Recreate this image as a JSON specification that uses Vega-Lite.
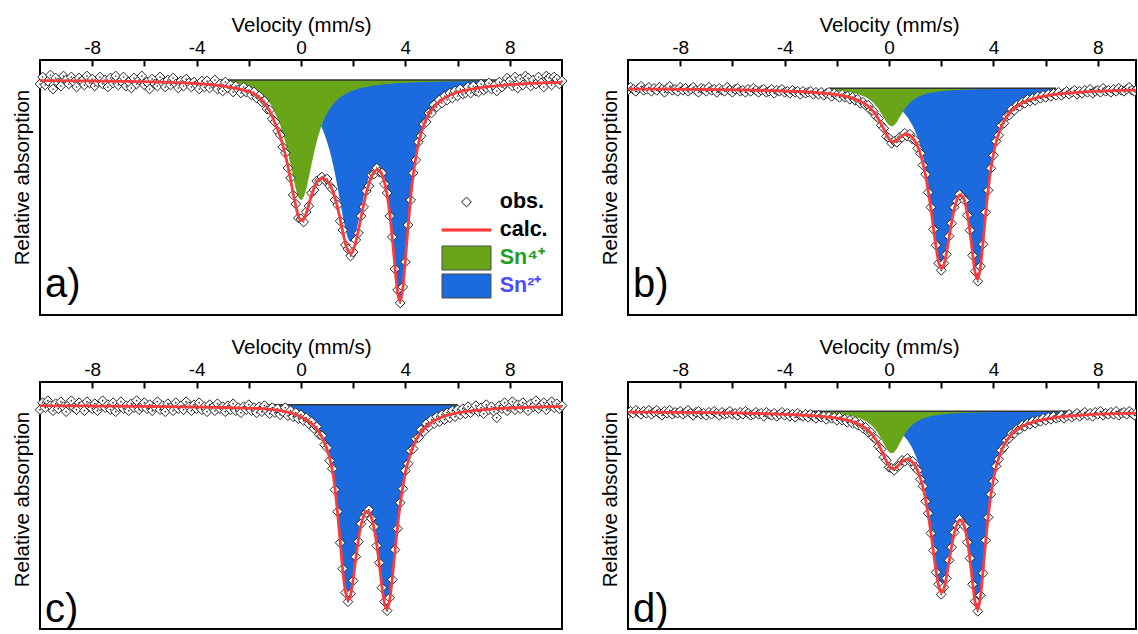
{
"$schema": "https://vega.github.io/schema/vega-lite/v6.json",
"background": "white",
"padding": {"left": 11, "top": 14, "right": 0, "bottom": 0},
"columns": 2,
"spacing": {"row": 20, "column": 29},
"resolve": {"scale": {"fill": "independent", "stroke": "independent", "shape": "independent"}, "legend": {"fill": "independent", "stroke": "independent", "shape": "independent"}},
"config": {
  "font": "Liberation Sans",
  "view": {"stroke": "black", "strokeWidth": 2},
  "axis": {"grid": false, "domain": false, "labelFont": "Liberation Sans", "titleFont": "Liberation Sans", "titleFontWeight": "normal", "labelColor": "black", "titleColor": "black"},
  "axisX": {"tickSize": -6, "tickWidth": 2, "tickColor": "black", "labelFontSize": 19, "titleFontSize": 20.5, "labelPadding": 9, "titlePadding": 3},
  "axisY": {"labels": false, "ticks": false, "titleFontSize": 20.5, "titlePadding": 8, "titleY": 117},
  "title": {"font": "Liberation Sans"}
},
"datasets": {
"LG": [{"s":"obs."},{"s":"calc."},{"s":"Sn⁴⁺"},{"s":"Sn²⁺"}],
"A": [
{"v":-10,"o":4,"c":0.6},{"v":-9.9,"o":-3},{"v":-9.8,"o":5},{"v":-9.7,"o":1},{"v":-9.6,"o":-5},
{"v":-9.5,"o":9,"c":0.7},{"v":-9.4,"o":-2},{"v":-9.3,"o":3},{"v":-9.2,"o":6},{"v":-9.1,"o":-4},
{"v":-9,"o":0,"c":0.8},{"v":-8.9,"o":4},{"v":-8.8,"o":-3},{"v":-8.7,"o":2},{"v":-8.6,"o":7},
{"v":-8.5,"o":-2,"c":0.9},{"v":-8.4,"o":1},{"v":-8.3,"o":5},{"v":-8.2,"o":-4},{"v":-8.1,"o":3},
{"v":-8,"o":-1,"c":1},{"v":-7.9,"o":6},{"v":-7.8,"o":2},{"v":-7.7,"o":-3},{"v":-7.6,"o":4},
{"v":-7.5,"o":0,"c":1.2},{"v":-7.4,"o":7},{"v":-7.3,"o":-2},{"v":-7.2,"o":3},{"v":-7.1,"o":-4},
{"v":-7,"o":5,"c":1.3},{"v":-6.9,"o":1},{"v":-6.8,"o":-3},{"v":-6.7,"o":6},{"v":-6.6,"o":2},
{"v":-6.5,"o":8,"c":1.5},{"v":-6.4,"o":-2},{"v":-6.3,"o":4},{"v":-6.2,"o":0},{"v":-6.1,"o":-4},
{"v":-6,"o":5,"c":1.7},{"v":-5.9,"o":2},{"v":-5.8,"o":9},{"v":-5.7,"o":-1},{"v":-5.6,"o":4},
{"v":-5.5,"o":6,"c":2},{"v":-5.4,"o":-3},{"v":-5.3,"o":3},{"v":-5.2,"o":7},{"v":-5.1,"o":0},
{"v":-5,"o":5,"c":2.3},{"v":-4.9,"o":-2},{"v":-4.8,"o":4},{"v":-4.7,"o":8},{"v":-4.6,"o":1},
{"v":-4.5,"o":6,"c":2.9},{"v":-4.4,"o":-1},{"v":-4.3,"o":3},{"v":-4.2,"o":7},{"v":-4.1,"o":2},
{"v":-4,"o":5,"c":3.5},{"v":-3.9,"o":9},{"v":-3.8,"o":1,"c":3.9},
{"v":-3.7,"o":7,"c":4.1,"g":0.3,"b":0.2},{"v":-3.6,"o":1,"c":4.3,"g":0.4,"b":0.2},{"v":-3.5,"o":8,"c":4.5,"g":0.5,"b":0.3},
{"v":-3.4,"o":3,"c":4.8,"g":0.6,"b":0.4},{"v":-3.3,"o":0,"c":5.1,"g":0.8,"b":0.5},{"v":-3.2,"o":9,"c":5.4,"g":0.9,"b":0.6},
{"v":-3.1,"o":4,"c":5.7,"g":1.1,"b":0.7},{"v":-3,"o":11,"c":6,"g":1.3,"b":0.8},{"v":-2.9,"o":2,"c":6.4,"g":1.5,"b":0.9},
{"v":-2.8,"o":8,"c":6.9,"g":1.7,"b":1.1},{"v":-2.7,"o":5,"c":7.3,"g":2,"b":1.3},{"v":-2.6,"o":12,"c":7.8,"g":2.5,"b":1.5},
{"v":-2.5,"o":6,"c":8.3,"g":3.1,"b":1.7},{"v":-2.4,"o":10,"c":8.9,"g":3.7,"b":2},{"v":-2.3,"o":13,"c":9.5,"g":4.4,"b":2.2},
{"v":-2.2,"o":7,"c":10.1,"g":5.1,"b":2.5},{"v":-2.1,"o":12,"c":10.8,"g":5.9,"b":2.7},{"v":-2,"o":10,"c":11.5,"g":6.8,"b":3},
{"v":-1.9,"o":15,"c":12.5,"g":7.8,"b":3.4},{"v":-1.8,"o":12,"c":14,"g":9,"b":3.8},{"v":-1.7,"o":18,"c":15.5,"g":10.3,"b":4.2},
{"v":-1.6,"o":16,"c":17.5,"g":12,"b":4.6},{"v":-1.5,"o":22,"c":20,"g":14,"b":5},{"v":-1.4,"o":21,"c":23,"g":16.5,"b":6},
{"v":-1.3,"o":29,"c":27,"g":19.5,"b":7},{"v":-1.2,"o":30,"c":31,"g":23,"b":8},{"v":-1.1,"o":39,"c":36.5,"g":27,"b":9},
{"v":-1,"o":42,"c":43.1,"g":33.3,"b":9.8},{"v":-0.9,"o":51,"c":49.1,"g":38.6,"b":10.5},{"v":-0.8,"o":55,"c":56.2,"g":45,"b":11.2},
{"v":-0.7,"o":67,"c":64.8,"g":52.8,"b":12},{"v":-0.6,"o":73,"c":74.8,"g":62,"b":12.8},{"v":-0.5,"o":88,"c":86.5,"g":72.7,"b":13.8},
{"v":-0.4,"o":98,"c":99.6,"g":84.7,"b":14.9},{"v":-0.3,"o":115,"c":113.3,"g":97.2,"b":16.1},{"v":-0.2,"o":124,"c":126.1,"g":108.7,"b":17.4},
{"v":-0.1,"o":138,"c":135.9,"g":117,"b":18.9},{"v":0,"o":139,"c":140.6,"g":120,"b":20.6},{"v":0.1,"o":142,"c":139.5,"g":117,"b":22.5},
{"v":0.2,"o":132,"c":133.5,"g":108.7,"b":24.8},{"v":0.3,"o":126,"c":124.5,"g":97.2,"b":27.3},{"v":0.4,"o":113,"c":115.5,"g":84.7,"b":30.3},
{"v":0.5,"o":110,"c":108,"g":72.7,"b":33.6},{"v":0.6,"o":101,"c":102.5,"g":62,"b":37.6},{"v":0.7,"o":101,"c":99.5,"g":52.8,"b":42.2},
{"v":0.8,"o":97,"c":98.5,"g":45,"b":47.8},{"v":0.9,"o":100,"c":99,"g":38.6,"b":54.2},{"v":1,"o":99,"c":101,"g":33.3,"b":61.9},
{"v":1.1,"o":106,"c":104.5,"g":28.9,"b":70.8},{"v":1.2,"o":109,"c":110,"g":25.3,"b":81.4},{"v":1.3,"o":120,"c":118,"g":22.2,"b":93.4},
{"v":1.4,"o":125,"c":127.5,"g":19.7,"b":107},{"v":1.5,"o":141,"c":139,"g":17.5,"b":121.5},{"v":1.6,"o":150,"c":151.7,"g":15.7,"b":136},
{"v":1.7,"o":165,"c":162.8,"g":14.1,"b":148.7},{"v":1.8,"o":169,"c":170.7,"g":12.7,"b":158},{"v":1.9,"o":176,"c":173.4,"g":11.5,"b":161.9},
{"v":2,"o":172,"c":170.3,"g":10.5,"b":159.8},{"v":2.1,"o":160,"c":162,"g":9.6,"b":152.4},{"v":2.2,"o":153,"c":150.4,"g":8.8,"b":141.6},
{"v":2.3,"o":136,"c":137.3,"g":8.1,"b":129.2},{"v":2.4,"o":127,"c":124.6,"g":7.5,"b":117.1},{"v":2.5,"o":111,"c":113.2,"g":6.9,"b":106.3},
{"v":2.6,"o":106,"c":103.9,"g":6.5,"b":97.4},{"v":2.7,"o":95,"c":96.7,"g":6,"b":90.7},{"v":2.8,"o":94,"c":92.1,"g":5.6,"b":86.5},
{"v":2.9,"o":88,"c":89.9,"g":5.2,"b":84.7},{"v":3,"o":92,"c":90.6,"g":4.9,"b":85.7},{"v":3.1,"o":93,"c":94.5,"g":4.6,"b":89.9},
{"v":3.2,"o":104,"c":102.4,"g":4.3,"b":98.1},{"v":3.3,"o":113,"c":115.1,"g":4.1,"b":111},{"v":3.4,"o":136,"c":133.8,"g":3.9,"b":129.9},
{"v":3.5,"o":157,"c":158.6,"g":3.7,"b":154.9},{"v":3.6,"o":189,"c":187.3,"g":3.5,"b":183.8},{"v":3.7,"o":210,"c":212.2,"g":3.3,"b":208.9},
{"v":3.8,"o":223,"c":221.4,"g":3.1,"b":218.3},{"v":3.9,"o":207,"c":208.5,"g":3,"b":205.5},{"v":4,"o":182,"c":179.7,"g":2.8,"b":176.9},
{"v":4.1,"o":145,"c":147.1,"g":2.7,"b":144.4},{"v":4.2,"o":120,"c":118.1,"g":2.6,"b":115.5},{"v":4.3,"o":93,"c":94.9,"g":2.5,"b":92.4},
{"v":4.4,"o":80,"c":77.2,"g":2.4,"b":74.8},{"v":4.5,"o":62,"c":63.6,"g":2.2,"b":61.4},{"v":4.6,"o":56,"c":53.3,"g":2.1,"b":51.2},
{"v":4.7,"o":44,"c":45.5,"g":2.1,"b":43.4},{"v":4.8,"o":42,"c":39.2,"g":2,"b":37.2},{"v":4.9,"o":33,"c":34.2,"g":1.9,"b":32.3},
{"v":5,"o":33,"c":30.1,"g":1.8,"b":28.3},{"v":5.1,"o":25,"c":26.9,"g":1.8,"b":25.1},{"v":5.2,"o":27,"c":24.1,"g":1.7,"b":22.4},
{"v":5.3,"o":20,"c":21.8,"g":1.7,"b":20.1},{"v":5.4,"o":23,"c":19.8,"g":1.6,"b":18.2},{"v":5.5,"o":16,"c":18.1,"g":1.5,"b":16.6},
{"v":5.6,"o":20,"c":16.7,"g":1.5,"b":15.2},{"v":5.7,"o":13,"c":15.3,"g":1.4,"b":13.9},{"v":5.8,"o":18,"c":14.3,"g":1.4,"b":12.9},
{"v":5.9,"o":11,"c":13.1,"g":1.3,"b":11.8},{"v":6,"o":16,"c":12.3,"g":1.3,"b":11},{"v":6.1,"o":9,"c":11.6,"g":1.3,"b":10.3},
{"v":6.2,"o":14,"c":11,"g":1.2,"b":9.7},{"v":6.3,"o":13,"c":10.4,"g":1.2,"b":9.1},{"v":6.4,"o":7,"c":9.8,"g":1.2,"b":8.5},
{"v":6.5,"o":13,"c":9.3,"g":1.1,"b":8},{"v":6.6,"o":6,"c":8.8,"g":1.1,"b":7.5},{"v":6.7,"o":11,"c":8.4,"g":1.1,"b":7},
{"v":6.8,"o":12,"c":8,"g":1.1,"b":6.6},{"v":6.9,"o":4,"c":7.6,"g":1,"b":6.1},{"v":7,"o":10,"c":7.2,"g":1,"b":5.7},
{"v":7.1,"o":8,"g":1,"b":5.2},{"v":7.2,"o":3,"g":0.95,"b":4.7},{"v":7.3,"o":9,"g":0.9,"b":4.1},
{"v":7.4,"o":6,"g":0.9,"b":3.4},{"v":7.5,"o":11,"c":5.8,"g":0.85,"b":2.6},{"v":7.6,"o":2,"g":0.8,"b":1.8},
{"v":7.7,"o":7},{"v":7.8,"o":4},{"v":7.9,"o":-2},{"v":8,"o":1,"c":4.6},{"v":8.1,"o":6},{"v":8.2,"o":-3},{"v":8.3,"o":8},{"v":8.4,"o":-1},
{"v":8.5,"o":5,"c":3.8},{"v":8.6,"o":-4},{"v":8.7,"o":-2},{"v":8.8,"o":6},{"v":8.9,"o":0},{"v":9,"o":4,"c":3.2},{"v":9.1,"o":-3},{"v":9.2,"o":3},
{"v":9.3,"o":7},{"v":9.4,"o":-4},{"v":9.5,"o":-2,"c":2.7},{"v":9.6,"o":5},{"v":9.7,"o":-3},{"v":9.8,"o":-1},{"v":9.9,"o":4},{"v":10,"o":1,"c":2.3}
],
"B": [
{"v":-10,"o":2,"c":0.7},{"v":-9.9,"o":-1},{"v":-9.8,"o":1},{"v":-9.7,"o":3},{"v":-9.6,"o":0},
{"v":-9.5,"o":-2,"c":0.75},{"v":-9.4,"o":2},{"v":-9.3,"o":1},{"v":-9.2,"o":-1},{"v":-9.1,"o":3},
{"v":-9,"o":0,"c":0.8},{"v":-8.9,"o":2},{"v":-8.8,"o":-1},{"v":-8.7,"o":1},{"v":-8.6,"o":4},
{"v":-8.5,"o":0,"c":0.9},{"v":-8.4,"o":-2},{"v":-8.3,"o":2},{"v":-8.2,"o":1},{"v":-8.1,"o":3},
{"v":-8,"o":-1,"c":1},{"v":-7.9,"o":2},{"v":-7.8,"o":0},{"v":-7.7,"o":3},{"v":-7.6,"o":1},
{"v":-7.5,"o":-1,"c":1.1},{"v":-7.4,"o":2},{"v":-7.3,"o":4},{"v":-7.2,"o":0},{"v":-7.1,"o":1},
{"v":-7,"o":3,"c":1.2},{"v":-6.9,"o":-1},{"v":-6.8,"o":2},{"v":-6.7,"o":1},{"v":-6.6,"o":4},
{"v":-6.5,"o":0,"c":1.35},{"v":-6.4,"o":2},{"v":-6.3,"o":3},{"v":-6.2,"o":-1},{"v":-6.1,"o":2},
{"v":-6,"o":4,"c":1.5},{"v":-5.9,"o":1},{"v":-5.8,"o":0},{"v":-5.7,"o":3},{"v":-5.6,"o":2},
{"v":-5.5,"o":4,"c":1.7},{"v":-5.4,"o":1},{"v":-5.3,"o":3},{"v":-5.2,"o":0},{"v":-5.1,"o":2},
{"v":-5,"o":4,"c":1.95},{"v":-4.9,"o":2},{"v":-4.8,"o":1},{"v":-4.7,"o":4},{"v":-4.6,"o":3},
{"v":-4.5,"o":1,"c":2.3},{"v":-4.4,"o":5},{"v":-4.3,"o":2},{"v":-4.2,"o":3},{"v":-4.1,"o":1},
{"v":-4,"o":4,"c":2.7},{"v":-3.9,"o":3},{"v":-3.8,"o":5},{"v":-3.7,"o":2},{"v":-3.6,"o":4},
{"v":-3.5,"o":3,"c":3.2},{"v":-3.4,"o":6},{"v":-3.3,"o":3},{"v":-3.2,"o":5},{"v":-3.1,"o":4},
{"v":-3,"o":3,"c":3.95},{"v":-2.9,"o":6},{"v":-2.8,"o":4},{"v":-2.7,"o":6},{"v":-2.6,"o":4},
{"v":-2.5,"o":7,"c":5},{"v":-2.4,"o":5},
{"v":-2.3,"o":4,"c":5.5,"g":1.9,"b":1.5},{"v":-2.2,"o":8,"c":5.8,"g":2.1,"b":1.6},{"v":-2.1,"o":5,"c":6.1,"g":2.2,"b":1.7},
{"v":-2,"o":7,"c":6.45,"g":2.4,"b":1.9},{"v":-1.9,"o":9,"c":6.9,"g":2.7,"b":2.1},{"v":-1.8,"o":6,"c":7.3,"g":2.9,"b":2.3},
{"v":-1.7,"o":9,"c":7.75,"g":3.2,"b":2.5},{"v":-1.6,"o":8,"c":8.4,"g":3.6,"b":2.8},{"v":-1.5,"o":11,"c":9.15,"g":4,"b":3.2},
{"v":-1.4,"o":9,"c":9.9,"g":4.5,"b":3.6},{"v":-1.3,"o":12,"c":10.75,"g":5.1,"b":4.1},{"v":-1.2,"o":11,"c":11.8,"g":5.8,"b":4.7},
{"v":-1.1,"o":15,"c":12.95,"g":6.6,"b":5.4},{"v":-1,"o":14,"c":14.3,"g":7.6,"b":6.1},{"v":-0.9,"o":17,"c":16,"g":8.8,"b":7},
{"v":-0.8,"o":17,"c":18,"g":10.3,"b":7.7},{"v":-0.7,"o":22,"c":20.35,"g":12.2,"b":8.15},{"v":-0.6,"o":23,"c":23.2,"g":14.5,"b":8.7},
{"v":-0.5,"o":28,"c":26.8,"g":17.4,"b":9.4},{"v":-0.4,"o":30,"c":30.9,"g":20.8,"b":10.1},{"v":-0.3,"o":37,"c":35.85,"g":24.9,"b":10.95},
{"v":-0.2,"o":40,"c":41.1,"g":29.3,"b":11.8},{"v":-0.1,"o":48,"c":46.4,"g":33.6,"b":12.8},{"v":0,"o":50,"c":50.7,"g":36.8,"b":13.9},
{"v":0.1,"o":55,"c":53.25,"g":38,"b":15.25},{"v":0.2,"o":53,"c":53.5,"g":36.8,"b":16.7},{"v":0.3,"o":54,"c":52,"g":33.6,"b":18.4},
{"v":0.4,"o":49,"c":49.7,"g":29.3,"b":20.4},{"v":0.5,"o":49,"c":47.6,"g":24.9,"b":22.7},{"v":0.6,"o":45,"c":46.2,"g":20.8,"b":25.4},
{"v":0.7,"o":48,"c":46.1,"g":17.4,"b":28.7},{"v":0.8,"o":46,"c":47.1,"g":14.5,"b":32.6},{"v":0.9,"o":51,"c":49.4,"g":12.2,"b":37.2},
{"v":1,"o":52,"c":53.2,"g":10.3,"b":42.9},{"v":1.1,"o":60,"c":58.6,"g":8.8,"b":49.8},{"v":1.2,"o":65,"c":65.8,"g":7.6,"b":58.2},
{"v":1.3,"o":77,"c":75.4,"g":6.6,"b":68.8},{"v":1.4,"o":86,"c":87.5,"g":5.8,"b":81.7},{"v":1.5,"o":104,"c":102.4,"g":5.1,"b":97.3},
{"v":1.6,"o":119,"c":120.1,"g":4.5,"b":115.6},{"v":1.7,"o":141,"c":139.6,"g":4,"b":135.6},{"v":1.8,"o":157,"c":158.7,"g":3.6,"b":155.1},
{"v":1.9,"o":175,"c":173.7,"g":3.2,"b":170.5},{"v":2,"o":182,"c":180.2,"g":2.9,"b":177.3},{"v":2.1,"o":175,"c":176.7,"g":2.7,"b":174},
{"v":2.2,"o":166,"c":164.8,"g":2.4,"b":162.4},{"v":2.3,"o":148,"c":149.1,"g":2.2,"b":146.9},{"v":2.4,"o":135,"c":133.6,"g":2.1,"b":131.5},
{"v":2.5,"o":119,"c":120.6,"g":1.9,"b":118.7},{"v":2.6,"o":113,"c":111.6,"g":1.8,"b":109.8},{"v":2.7,"o":106,"c":107.1,"g":1.6,"b":105.5},
{"v":2.8,"o":109,"c":107.6,"g":1.5,"b":106.1},{"v":2.9,"o":112,"c":113.6,"g":1.4,"b":112.2},{"v":3,"o":127,"c":125.5,"g":1.3,"b":124.2},
{"v":3.1,"o":142,"c":143.4,"g":1.2,"b":142.2},{"v":3.2,"o":167,"c":165.35,"g":1.15,"b":164.2},{"v":3.3,"o":183,"c":184.6,"g":1.1,"b":183.5},
{"v":3.4,"o":193,"c":190.95,"g":1.05,"b":189.9},{"v":3.5,"o":178,"c":179,"g":1,"b":178},{"v":3.6,"o":156,"c":153.95,"g":0.95,"b":153},
{"v":3.7,"o":124,"c":125.8,"g":0.9,"b":124.9},{"v":3.8,"o":102,"c":100.95,"g":0.85,"b":100.1},{"v":3.9,"o":80,"c":81.1,"g":0.8,"b":80.3},
{"v":4,"o":67,"c":65.8,"g":0.78,"b":65},{"v":4.1,"o":53,"c":54.15,"g":0.75,"b":53.4},{"v":4.2,"o":47,"c":45.2,"g":0.72,"b":44.5},
{"v":4.3,"o":37,"c":38.5,"g":0.7,"b":37.8},{"v":4.4,"o":35,"c":33.1,"g":0.67,"b":32.4},{"v":4.5,"o":28,"c":28.75,"g":0.65,"b":28.1},
{"v":4.6,"o":27,"c":25.2,"g":0.63,"b":24.6},{"v":4.7,"o":21,"c":22.3,"g":0.6,"b":21.7},{"v":4.8,"o":22,"c":20,"g":0.58,"b":19.4},
{"v":4.9,"o":17,"c":18,"g":0.56,"b":17.4},{"v":5,"o":18,"c":16.1,"g":0.54,"b":15.6},{"v":5.1,"o":14,"c":14.7,"g":0.5,"b":14.2},
{"v":5.2,"o":15,"c":13.5,"g":0.5,"b":13},{"v":5.3,"o":11,"c":12.4,"g":0.48,"b":11.9},{"v":5.4,"o":13,"c":11.5,"g":0.46,"b":11},
{"v":5.5,"o":10,"c":10.65,"g":0.45,"b":10.2},{"v":5.6,"o":12,"c":9.7,"g":0.43,"b":9.3},{"v":5.7,"o":8,"c":9.1,"g":0.42,"b":8.7},
{"v":5.8,"o":10,"c":8.6,"g":0.4,"b":8.2},{"v":5.9,"o":7,"c":8,"g":0.4,"b":7.6},{"v":6,"o":9,"c":7.6,"g":0.38,"b":7.2},
{"v":6.1,"o":6,"c":7.1,"g":0.36,"b":6.75},{"v":6.2,"o":8,"c":6.65,"g":0.35,"b":6.3},{"v":6.3,"o":5,"c":6.3,"g":0.34,"b":5.95},
{"v":6.4,"o":7,"c":5.9,"g":0.33,"b":5.6},
{"v":6.5,"o":4,"c":5.6},{"v":6.6,"o":7},{"v":6.7,"o":5},{"v":6.8,"o":3},{"v":6.9,"o":6},
{"v":7,"o":4,"c":4.5},{"v":7.1,"o":2},{"v":7.2,"o":6},{"v":7.3,"o":3},{"v":7.4,"o":5},
{"v":7.5,"o":2,"c":3.6},{"v":7.6,"o":4},{"v":7.7,"o":1},{"v":7.8,"o":5},{"v":7.9,"o":3},
{"v":8,"o":2,"c":2.9},{"v":8.1,"o":4},{"v":8.2,"o":0},{"v":8.3,"o":3},{"v":8.4,"o":2},
{"v":8.5,"o":4,"c":2.5},{"v":8.6,"o":1},{"v":8.7,"o":3},{"v":8.8,"o":0},{"v":8.9,"o":2},
{"v":9,"o":3,"c":2.1},{"v":9.1,"o":1},{"v":9.2,"o":-1},{"v":9.3,"o":2},{"v":9.4,"o":3},{"v":9.5,"o":1,"c":1.8}
],
"C": [
{"v":-10,"o":5,"c":1},{"v":-9.9,"o":-2},{"v":-9.8,"o":3},{"v":-9.7,"o":-4},{"v":-9.6,"o":1},
{"v":-9.5,"o":6,"c":1.1},{"v":-9.4,"o":-1},{"v":-9.3,"o":4},{"v":-9.2,"o":-3},{"v":-9.1,"o":2},
{"v":-9,"o":7,"c":1.15},{"v":-8.9,"o":0},{"v":-8.8,"o":-4},{"v":-8.7,"o":3},{"v":-8.6,"o":5},
{"v":-8.5,"o":-2,"c":1.2},{"v":-8.4,"o":1},{"v":-8.3,"o":6},{"v":-8.2,"o":-3},{"v":-8.1,"o":2},
{"v":-8,"o":4,"c":1.3},{"v":-7.9,"o":-1},{"v":-7.8,"o":6},{"v":-7.7,"o":1},{"v":-7.6,"o":-4},
{"v":-7.5,"o":3,"c":1.4},{"v":-7.4,"o":0},{"v":-7.3,"o":5},{"v":-7.2,"o":-2},{"v":-7.1,"o":7},
{"v":-7,"o":2,"c":1.5},{"v":-6.9,"o":-3},{"v":-6.8,"o":4},{"v":-6.7,"o":1},{"v":-6.6,"o":6},
{"v":-6.5,"o":-1,"c":1.6},{"v":-6.4,"o":3},{"v":-6.3,"o":-4},{"v":-6.2,"o":5},{"v":-6.1,"o":2},
{"v":-6,"o":-2,"c":1.7},{"v":-5.9,"o":4},{"v":-5.8,"o":0},{"v":-5.7,"o":6},{"v":-5.6,"o":2},
{"v":-5.5,"o":-3,"c":1.85},{"v":-5.4,"o":5},{"v":-5.3,"o":1},{"v":-5.2,"o":7},{"v":-5.1,"o":-1},
{"v":-5,"o":3,"c":2},{"v":-4.9,"o":6},{"v":-4.8,"o":-2},{"v":-4.7,"o":4},{"v":-4.6,"o":1},
{"v":-4.5,"o":5,"c":2.15},{"v":-4.4,"o":-3},{"v":-4.3,"o":2},{"v":-4.2,"o":6},{"v":-4.1,"o":0},
{"v":-4,"o":4,"c":2.3},{"v":-3.9,"o":-2},{"v":-3.8,"o":5},{"v":-3.7,"o":2},{"v":-3.6,"o":7},
{"v":-3.5,"o":0,"c":2.55},{"v":-3.4,"o":3},{"v":-3.3,"o":6},{"v":-3.2,"o":-1},{"v":-3.1,"o":4},
{"v":-3,"o":2,"c":2.8},{"v":-2.9,"o":7},{"v":-2.8,"o":1},{"v":-2.7,"o":5},{"v":-2.6,"o":-1},
{"v":-2.5,"o":6,"c":3.1},{"v":-2.4,"o":3},{"v":-2.3,"o":8},{"v":-2.2,"o":2},{"v":-2.1,"o":5},
{"v":-2,"o":0,"c":3.5},{"v":-1.9,"o":6},{"v":-1.8,"o":3},{"v":-1.7,"o":8},{"v":-1.6,"o":2,"c":3.8},
{"v":-1.5,"o":7,"c":3.9,"b":3.9},{"v":-1.4,"o":1,"c":4.1,"b":4.1},{"v":-1.3,"o":6,"c":4.3,"b":4.3},
{"v":-1.2,"o":9,"c":4.6,"b":4.6},{"v":-1.1,"o":3,"c":4.9,"b":4.9},{"v":-1,"o":8,"c":5.2,"b":5.2},
{"v":-0.9,"o":4,"c":5.5,"b":5.5},{"v":-0.8,"o":10,"c":5.9,"b":5.9},{"v":-0.7,"o":7,"c":6.3,"b":6.3},
{"v":-0.6,"o":3,"c":6.9,"b":6.9},{"v":-0.5,"o":11,"c":7.4,"b":7.4},{"v":-0.4,"o":6,"c":8.2,"b":8.2},
{"v":-0.3,"o":12,"c":9,"b":9},{"v":-0.2,"o":8,"c":10,"b":10},{"v":-0.1,"o":14,"c":11.1,"b":11.1},
{"v":0,"o":10,"c":12.3,"b":12.3},{"v":0.1,"o":16,"c":13.6,"b":13.6},{"v":0.2,"o":13,"c":15.1,"b":15.1},
{"v":0.3,"o":19,"c":16.8,"b":16.8},{"v":0.4,"o":17,"c":18.7,"b":18.7},{"v":0.5,"o":24,"c":21.2,"b":21.2},
{"v":0.6,"o":22,"c":24,"b":24},{"v":0.7,"o":30,"c":27.8,"b":27.8},{"v":0.8,"o":31,"c":32.4,"b":32.4},
{"v":0.9,"o":40,"c":38.2,"b":38.2},{"v":1,"o":43,"c":45,"b":45},{"v":1.1,"o":56,"c":53.6,"b":53.6},
{"v":1.2,"o":64,"c":65.4,"b":65.4},{"v":1.3,"o":85,"c":83.2,"b":83.2},{"v":1.4,"o":107,"c":108.3,"b":108.3},
{"v":1.5,"o":138,"c":136.3,"b":136.3},{"v":1.6,"o":164,"c":165.6,"b":165.6},{"v":1.7,"o":188,"c":186.1,"b":186.1},
{"v":1.8,"o":197,"c":195.5,"b":195.5},{"v":1.9,"o":189,"c":190.4,"b":190.4},{"v":2,"o":176,"c":174.3,"b":174.3},
{"v":2.1,"o":152,"c":153.9,"b":153.9},{"v":2.2,"o":137,"c":135.2,"b":135.2},{"v":2.3,"o":119,"c":120.6,"b":120.6},
{"v":2.4,"o":113,"c":111.1,"b":111.1},{"v":2.5,"o":108,"c":106.7,"b":106.7},{"v":2.6,"o":105,"c":107.2,"b":107.2},
{"v":2.7,"o":114,"c":112.8,"b":112.8},{"v":2.8,"o":122,"c":123.5,"b":123.5},{"v":2.9,"o":141,"c":139.5,"b":139.5},
{"v":3,"o":158,"c":159.7,"b":159.7},{"v":3.1,"o":183,"c":181.6,"b":181.6},{"v":3.2,"o":197,"c":198.9,"b":198.9},
{"v":3.3,"o":206,"c":204.5,"b":204.5},{"v":3.4,"o":193,"c":194.9,"b":194.9},{"v":3.5,"o":175,"c":173.3,"b":173.3},
{"v":3.6,"o":145,"c":147,"b":147},{"v":3.7,"o":124,"c":121.7,"b":121.7},{"v":3.8,"o":98,"c":99.9,"b":99.9},
{"v":3.9,"o":84,"c":82.2,"b":82.2},{"v":4,"o":66,"c":68.2,"b":68.2},{"v":4.1,"o":59,"c":57.2,"b":57.2},
{"v":4.2,"o":46,"c":48.5,"b":48.5},{"v":4.3,"o":44,"c":41.5,"b":41.5},{"v":4.4,"o":34,"c":36,"b":36},
{"v":4.5,"o":33,"c":31.3,"b":31.3},{"v":4.6,"o":25,"c":27.7,"b":27.7},{"v":4.7,"o":27,"c":24.6,"b":24.6},
{"v":4.8,"o":19,"c":22,"b":22},{"v":4.9,"o":22,"c":19.7,"b":19.7},{"v":5,"o":15,"c":17.8,"b":17.8},
{"v":5.1,"o":19,"c":16.2,"b":16.2},{"v":5.2,"o":12,"c":14.8,"b":14.8},{"v":5.3,"o":17,"c":13.5,"b":13.5},
{"v":5.4,"o":10,"c":12.4,"b":12.4},{"v":5.5,"o":15,"c":11.4,"b":11.4},{"v":5.6,"o":8,"c":10.6,"b":10.6},
{"v":5.7,"o":13,"c":9.85,"b":9.85},{"v":5.8,"o":6,"c":9.2,"b":9.2},{"v":5.9,"o":12,"c":8.6,"b":8.6},
{"v":6,"o":5,"c":8.1,"b":8.1},
{"v":6.1,"o":10},{"v":6.2,"o":4},{"v":6.3,"o":9},{"v":6.4,"o":2},{"v":6.5,"o":8,"c":6.3},
{"v":6.6,"o":5},{"v":6.7,"o":1},{"v":6.8,"o":7},{"v":6.9,"o":3},{"v":7,"o":9,"c":5},
{"v":7.1,"o":0},{"v":7.2,"o":5},{"v":7.3,"o":2},{"v":7.4,"o":7},{"v":7.5,"o":13,"c":4},
{"v":7.6,"o":1},{"v":7.7,"o":4},{"v":7.8,"o":-2},{"v":7.9,"o":6},{"v":8,"o":2,"c":3.3},
{"v":8.1,"o":-3},{"v":8.2,"o":5},{"v":8.3,"o":0},{"v":8.4,"o":4},{"v":8.5,"o":-2,"c":2.8},
{"v":8.6,"o":3},{"v":8.7,"o":6},{"v":8.8,"o":-1},{"v":8.9,"o":2},{"v":9,"o":-4,"c":2.3},
{"v":9.1,"o":4},{"v":9.2,"o":1},{"v":9.3,"o":-2},{"v":9.4,"o":5},{"v":9.5,"o":0,"c":2},
{"v":9.6,"o":-3},{"v":9.7,"o":3},{"v":9.8,"o":-1},{"v":9.9,"o":4},{"v":10,"o":1,"c":1.7}
],
"D": [
{"v":-10,"o":3,"c":0.8},{"v":-9.9,"o":0},{"v":-9.8,"o":2},{"v":-9.7,"o":-1},{"v":-9.6,"o":1},
{"v":-9.5,"o":3,"c":0.85},{"v":-9.4,"o":0},{"v":-9.3,"o":2},{"v":-9.2,"o":-1},{"v":-9.1,"o":3},
{"v":-9,"o":1,"c":0.9},{"v":-8.9,"o":-1},{"v":-8.8,"o":2},{"v":-8.7,"o":4},{"v":-8.6,"o":0},
{"v":-8.5,"o":2,"c":1},{"v":-8.4,"o":-1},{"v":-8.3,"o":3},{"v":-8.2,"o":1},{"v":-8.1,"o":2},
{"v":-8,"o":0,"c":1.1},{"v":-7.9,"o":3},{"v":-7.8,"o":1},{"v":-7.7,"o":-1},{"v":-7.6,"o":2},
{"v":-7.5,"o":4,"c":1.2},{"v":-7.4,"o":1},{"v":-7.3,"o":0},{"v":-7.2,"o":3},{"v":-7.1,"o":2},
{"v":-7,"o":4,"c":1.35},{"v":-6.9,"o":1},{"v":-6.8,"o":3},{"v":-6.7,"o":0},{"v":-6.6,"o":2},
{"v":-6.5,"o":4,"c":1.5},{"v":-6.4,"o":1},{"v":-6.3,"o":3},{"v":-6.2,"o":2},{"v":-6.1,"o":0},
{"v":-6,"o":3,"c":1.7},{"v":-5.9,"o":2},{"v":-5.8,"o":4},{"v":-5.7,"o":1},{"v":-5.6,"o":3},
{"v":-5.5,"o":0,"c":1.95},{"v":-5.4,"o":2},{"v":-5.3,"o":4},{"v":-5.2,"o":3},{"v":-5.1,"o":1},
{"v":-5,"o":3,"c":2.2},{"v":-4.9,"o":2},{"v":-4.8,"o":5},{"v":-4.7,"o":1},{"v":-4.6,"o":3},
{"v":-4.5,"o":4,"c":2.6},{"v":-4.4,"o":2},{"v":-4.3,"o":5},{"v":-4.2,"o":3},{"v":-4.1,"o":1},
{"v":-4,"o":4,"c":3},{"v":-3.9,"o":2},{"v":-3.8,"o":5},{"v":-3.7,"o":3},{"v":-3.6,"o":6},
{"v":-3.5,"o":2,"c":3.6},{"v":-3.4,"o":4},{"v":-3.3,"o":5},{"v":-3.2,"o":3,"c":4},
{"v":-3.1,"o":6,"c":4.2,"g":1.2,"b":0.9},{"v":-3,"o":3,"c":4.3,"g":1.3,"b":1},{"v":-2.9,"o":5,"c":4.5,"g":1.4,"b":1.1},
{"v":-2.8,"o":7,"c":4.7,"g":1.5,"b":1.2},{"v":-2.7,"o":4,"c":4.9,"g":1.6,"b":1.25},{"v":-2.6,"o":6,"c":5.1,"g":1.7,"b":1.3},
{"v":-2.5,"o":5,"c":5.3,"g":1.8,"b":1.4},{"v":-2.4,"o":8,"c":5.6,"g":1.9,"b":1.5},{"v":-2.3,"o":5,"c":5.9,"g":2.1,"b":1.6},
{"v":-2.2,"o":7,"c":6.2,"g":2.3,"b":1.8},{"v":-2.1,"o":6,"c":6.5,"g":2.5,"b":2},{"v":-2,"o":9,"c":6.8,"g":2.7,"b":2.1},
{"v":-1.9,"o":6,"c":7.2,"g":3,"b":2.3},{"v":-1.8,"o":9,"c":7.65,"g":3.2,"b":2.5},{"v":-1.7,"o":8,"c":8.2,"g":3.6,"b":2.8},
{"v":-1.6,"o":11,"c":8.85,"g":4,"b":3.1},{"v":-1.5,"o":9,"c":9.6,"g":4.4,"b":3.5},{"v":-1.4,"o":12,"c":10.45,"g":5,"b":4},
{"v":-1.3,"o":10,"c":11.3,"g":5.6,"b":4.5},{"v":-1.2,"o":14,"c":12.5,"g":6.4,"b":5.1},{"v":-1.1,"o":13,"c":13.75,"g":7.3,"b":5.8},
{"v":-1,"o":17,"c":15.2,"g":8.4,"b":6.7},{"v":-0.9,"o":16,"c":17.05,"g":9.8,"b":7.25},{"v":-0.8,"o":21,"c":19.1,"g":11.4,"b":7.7},
{"v":-0.7,"o":21,"c":21.7,"g":13.5,"b":8.2},{"v":-0.6,"o":26,"c":24.8,"g":16,"b":8.8},{"v":-0.5,"o":28,"c":28.7,"g":19.2,"b":9.5},
{"v":-0.4,"o":35,"c":33.2,"g":23,"b":10.2},{"v":-0.3,"o":38,"c":38.5,"g":27.5,"b":11},{"v":-0.2,"o":46,"c":44.2,"g":32.4,"b":11.8},
{"v":-0.1,"o":49,"c":49.95,"g":37.1,"b":12.85},{"v":0,"o":56,"c":54.7,"g":40.7,"b":14},{"v":0.1,"o":57,"c":57.35,"g":42,"b":15.35},
{"v":0.2,"o":59,"c":57.5,"g":40.7,"b":16.8},{"v":0.3,"o":55,"c":55.6,"g":37.1,"b":18.5},{"v":0.4,"o":54,"c":52.9,"g":32.4,"b":20.5},
{"v":0.5,"o":49,"c":50.3,"g":27.5,"b":22.8},{"v":0.6,"o":50,"c":48.6,"g":23,"b":25.6},{"v":0.7,"o":47,"c":48,"g":19.2,"b":28.8},
{"v":0.8,"o":50,"c":48.8,"g":16,"b":32.8},{"v":0.9,"o":50,"c":50.9,"g":13.5,"b":37.4},{"v":1,"o":56,"c":54.5,"g":11.4,"b":43.1},
{"v":1.1,"o":59,"c":59.8,"g":9.8,"b":50},{"v":1.2,"o":68,"c":66.9,"g":8.4,"b":58.5},{"v":1.3,"o":75,"c":76.3,"g":7.3,"b":69},
{"v":1.4,"o":90,"c":88.4,"g":6.4,"b":82},{"v":1.5,"o":102,"c":103.2,"g":5.6,"b":97.6},{"v":1.6,"o":122,"c":120.9,"g":5,"b":115.9},
{"v":1.7,"o":139,"c":140.4,"g":4.4,"b":136},{"v":1.8,"o":161,"c":159.6,"g":4,"b":155.6},{"v":1.9,"o":173,"c":174.6,"g":3.6,"b":171},
{"v":2,"o":183,"c":181,"g":3.2,"b":177.8},{"v":2.1,"o":176,"c":177.6,"g":3,"b":174.6},{"v":2.2,"o":167,"c":165.8,"g":2.7,"b":163.1},
{"v":2.3,"o":149,"c":150.3,"g":2.5,"b":147.8},{"v":2.4,"o":136,"c":134.8,"g":2.3,"b":132.5},{"v":2.5,"o":121,"c":122,"g":2.1,"b":119.9},
{"v":2.6,"o":114,"c":113.2,"g":1.9,"b":111.3},{"v":2.7,"o":108,"c":109.1,"g":1.8,"b":107.3},{"v":2.8,"o":112,"c":110,"g":1.7,"b":108.3},
{"v":2.9,"o":115,"c":116.6,"g":1.6,"b":115},{"v":3,"o":131,"c":129.3,"g":1.5,"b":127.8},{"v":3.1,"o":147,"c":148.2,"g":1.4,"b":146.8},
{"v":3.2,"o":173,"c":171.2,"g":1.3,"b":169.9},{"v":3.3,"o":190,"c":191.3,"g":1.2,"b":190.1},{"v":3.4,"o":200,"c":198.05,"g":1.15,"b":196.9},
{"v":3.5,"o":184,"c":185.7,"g":1.1,"b":184.6},{"v":3.6,"o":162,"c":159.75,"g":1.05,"b":158.7},{"v":3.7,"o":129,"c":130.5,"g":1,"b":129.5},
{"v":3.8,"o":106,"c":104.65,"g":0.95,"b":103.7},{"v":3.9,"o":83,"c":84,"g":0.9,"b":83.1},{"v":4,"o":70,"c":68.05,"g":0.85,"b":67.2},
{"v":4.1,"o":55,"c":56,"g":0.8,"b":55.2},{"v":4.2,"o":48,"c":46.8,"g":0.78,"b":46},{"v":4.3,"o":39,"c":39.75,"g":0.75,"b":39},
{"v":4.4,"o":36,"c":34.1,"g":0.72,"b":33.4},{"v":4.5,"o":29,"c":29.7,"g":0.7,"b":29},{"v":4.6,"o":27,"c":26,"g":0.68,"b":25.3},
{"v":4.7,"o":22,"c":22.96,"g":0.66,"b":22.3},{"v":4.8,"o":22,"c":20.5,"g":0.64,"b":19.9},{"v":4.9,"o":18,"c":18.5,"g":0.62,"b":17.9},
{"v":5,"o":18,"c":16.7,"g":0.6,"b":16.1},{"v":5.1,"o":14,"c":15.2,"g":0.58,"b":14.6},{"v":5.2,"o":15,"c":13.9,"g":0.56,"b":13.3},
{"v":5.3,"o":12,"c":12.7,"g":0.54,"b":12.2},{"v":5.4,"o":13,"c":11.8,"g":0.52,"b":11.3},{"v":5.5,"o":10,"c":10.9,"g":0.5,"b":10.4},
{"v":5.6,"o":12,"c":10.1,"g":0.48,"b":9.6},{"v":5.7,"o":9,"c":9.4,"g":0.47,"b":8.9},{"v":5.8,"o":10,"c":8.9,"g":0.46,"b":8.4},
{"v":5.9,"o":7,"c":8.25,"g":0.45,"b":7.8},{"v":6,"o":9,"c":7.8,"g":0.44,"b":7.4},{"v":6.1,"o":6,"c":7.3,"g":0.43,"b":6.85},
{"v":6.2,"o":8,"c":6.9,"g":0.42,"b":6.5},{"v":6.3,"o":5,"c":6.5,"g":0.41,"b":6.05},{"v":6.4,"o":7,"c":6.1,"g":0.4,"b":5.7},
{"v":6.5,"o":6,"c":5.8,"g":0.39,"b":5.4},{"v":6.6,"o":4,"c":5.5,"g":0.38,"b":5.1},{"v":6.7,"o":7,"c":5.2,"g":0.37,"b":4.8},
{"v":6.8,"o":5,"c":4.9,"g":0.36,"b":4.5},{"v":6.9,"o":3,"c":4.7,"g":0.35,"b":4.3},{"v":7,"o":6,"c":4.5,"g":0.35,"b":4.1},
{"v":7.1,"o":4},{"v":7.2,"o":2},{"v":7.3,"o":5},{"v":7.4,"o":3},{"v":7.5,"o":1,"c":3.6},
{"v":7.6,"o":4},{"v":7.7,"o":2},{"v":7.8,"o":5},{"v":7.9,"o":1},{"v":8,"o":3,"c":2.9},
{"v":8.1,"o":0},{"v":8.2,"o":4},{"v":8.3,"o":2},{"v":8.4,"o":3},{"v":8.5,"o":1,"c":2.5},
{"v":8.6,"o":3},{"v":8.7,"o":0},{"v":8.8,"o":4},{"v":8.9,"o":2},{"v":9,"o":1,"c":2.1},
{"v":9.1,"o":3},{"v":9.2,"o":0},{"v":9.3,"o":2},{"v":9.4,"o":4},{"v":9.5,"o":1,"c":1.8}
]
},
"concat": [
{
  "width": 522, "height": 255,
  "data": {"name": "A"},
  "title": {"text": "a)", "orient": "bottom", "anchor": "start", "frame": "group", "offset": -18, "dx": 5, "baseline": "alphabetic", "fontSize": 40, "fontWeight": "normal", "color": "black"},
  "encoding": {"x": {"field": "v", "type": "quantitative", "scale": {"domain": [-10, 10], "nice": false, "zero": false}, "axis": {"orient": "top", "title": "Velocity (mm/s)", "values": [-8,-6,-4,-2,0,2,4,6,8], "labelExpr": "datum.value % 4 === 0 ? '' + datum.value : ''"}}},
  "layer": [
    {"transform": [{"filter": "isValid(datum.b)"}], "mark": {"type": "area", "color": "#1b6ade", "interpolate": "monotone"}, "encoding": {"y": {"field": "b", "type": "quantitative", "scale": {"domain": [-20, 235], "reverse": true, "nice": false, "zero": false}, "axis": {"title": "Relative absorption"}}, "y2": {"datum": 0}}},
    {"transform": [{"filter": "isValid(datum.g)"}], "mark": {"type": "area", "color": "#68a518", "interpolate": "monotone"}, "encoding": {"y": {"field": "g", "type": "quantitative", "scale": {"domain": [-20, 235], "reverse": true, "nice": false, "zero": false}, "axis": {"title": "Relative absorption"}}, "y2": {"datum": 0}}},
    {"transform": [{"filter": "isValid(datum.b)"}], "mark": {"type": "line", "color": "#333333", "strokeWidth": 1.5}, "encoding": {"y": {"datum": 0, "type": "quantitative", "scale": {"domain": [-20, 235], "reverse": true, "nice": false, "zero": false}, "axis": {"title": "Relative absorption"}}}},
    {"mark": {"type": "point", "shape": "diamond", "size": 95, "filled": true, "fill": "white", "stroke": "#262626", "strokeWidth": 1, "opacity": 1}, "encoding": {"y": {"field": "o", "type": "quantitative", "scale": {"domain": [-20, 235], "reverse": true, "nice": false, "zero": false}, "axis": {"title": "Relative absorption"}}}},
    {"mark": {"type": "point", "shape": "circle", "size": 3, "filled": true, "color": "#333333", "opacity": 1}, "encoding": {"y": {"field": "o", "type": "quantitative", "scale": {"domain": [-20, 235], "reverse": true, "nice": false, "zero": false}, "axis": {"title": "Relative absorption"}}}},
    {"transform": [{"filter": "isValid(datum.c)"}], "mark": {"type": "line", "color": "#fa3c3c", "strokeWidth": 2.8, "interpolate": "monotone"}, "encoding": {"y": {"field": "c", "type": "quantitative", "scale": {"domain": [-20, 235], "reverse": true, "nice": false, "zero": false}, "axis": {"title": "Relative absorption"}}}},
    {"data": {"name": "LG"}, "mark": {"type": "point", "opacity": 0, "filled": true},
     "encoding": {
       "fill": {"field": "s", "type": "nominal", "scale": {"domain": ["obs.", "calc.", "Sn⁴⁺", "Sn²⁺"], "range": ["#ffffff", "#fa3c3c", "#68a518", "#1b6ade"]},
          "legend": {"title": null, "orient": "bottom-right", "offset": 14, "padding": 0, "symbolSize": 600, "symbolOffset": 12.25, "labelOffset": 32.5, "rowPadding": -4, "labelFontSize": 21.5, "labelFontWeight": "bold", "labelFont": "Liberation Sans", "labelColor": {"expr": "datum.value === 'Sn⁴⁺' ? '#1f9e1f' : datum.value === 'Sn²⁺' ? '#4b4bff' : 'black'"}, "symbolOpacity": 1, "symbolStrokeWidth": 1, "labelLimit": 200}},
       "stroke": {"field": "s", "type": "nominal", "scale": {"domain": ["obs.", "calc.", "Sn⁴⁺", "Sn²⁺"], "range": ["#111111", "#fa3c3c", "#4a4a4a", "#4a4a4a"]},
          "legend": {"title": null, "orient": "bottom-right", "offset": 14, "padding": 0, "symbolSize": 600, "symbolOffset": 12.25, "labelOffset": 32.5, "rowPadding": -4, "labelFontSize": 21.5, "labelFontWeight": "bold", "labelFont": "Liberation Sans", "labelColor": {"expr": "datum.value === 'Sn⁴⁺' ? '#1f9e1f' : datum.value === 'Sn²⁺' ? '#4b4bff' : 'black'"}, "symbolOpacity": 1, "symbolStrokeWidth": 1, "labelLimit": 200}},
       "shape": {"field": "s", "type": "nominal", "scale": {"domain": ["obs.", "calc.", "Sn⁴⁺", "Sn²⁺"], "range": ["M-1,-0.98L-1,-0.98M1,-0.4L1.4,0L1,0.4L0.6,0ZM-1,0.98L-1,0.98", "M-1,-0.98L-1,-0.98M-1,-0.09L3,-0.09L3,0.09L-1,0.09ZM-1,0.98L-1,0.98", "M-1,-0.98L3,-0.98L3,0.98L-1,0.98Z", "M-1,-0.98L3,-0.98L3,0.98L-1,0.98Z"]},
          "legend": {"title": null, "orient": "bottom-right", "offset": 14, "padding": 0, "symbolSize": 600, "symbolOffset": 12.25, "labelOffset": 32.5, "rowPadding": -4, "labelFontSize": 21.5, "labelFontWeight": "bold", "labelFont": "Liberation Sans", "labelColor": {"expr": "datum.value === 'Sn⁴⁺' ? '#1f9e1f' : datum.value === 'Sn²⁺' ? '#4b4bff' : 'black'"}, "symbolOpacity": 1, "symbolStrokeWidth": 1, "labelLimit": 200}}
     }}
  ]
},
{
  "width": 508, "height": 255,
  "data": {"name": "B"},
  "title": {"text": "b)", "orient": "bottom", "anchor": "start", "frame": "group", "offset": -18, "dx": 5, "baseline": "alphabetic", "fontSize": 40, "fontWeight": "normal", "color": "black"},
  "encoding": {"x": {"field": "v", "type": "quantitative", "scale": {"domain": [-10, 9.46], "nice": false, "zero": false}, "axis": {"orient": "top", "title": "Velocity (mm/s)", "titleX": 261, "values": [-8,-6,-4,-2,0,2,4,6,8], "labelExpr": "datum.value % 4 === 0 ? '' + datum.value : ''"}}},
  "layer": [
    {"transform": [{"filter": "isValid(datum.b)"}], "mark": {"type": "area", "color": "#1b6ade", "interpolate": "monotone", "clip": true}, "encoding": {"y": {"field": "b", "type": "quantitative", "scale": {"domain": [-28.3, 226.7], "reverse": true, "nice": false, "zero": false}, "axis": {"title": "Relative absorption"}}, "y2": {"datum": 0}}},
    {"transform": [{"filter": "isValid(datum.g)"}], "mark": {"type": "area", "color": "#68a518", "interpolate": "monotone", "clip": true}, "encoding": {"y": {"field": "g", "type": "quantitative", "scale": {"domain": [-28.3, 226.7], "reverse": true, "nice": false, "zero": false}, "axis": {"title": "Relative absorption"}}, "y2": {"datum": 0}}},
    {"transform": [{"filter": "isValid(datum.b)"}], "mark": {"type": "line", "color": "#333333", "strokeWidth": 1.5, "clip": true}, "encoding": {"y": {"datum": 0, "type": "quantitative", "scale": {"domain": [-28.3, 226.7], "reverse": true, "nice": false, "zero": false}, "axis": {"title": "Relative absorption"}}}},
    {"mark": {"type": "point", "shape": "diamond", "size": 95, "filled": true, "fill": "white", "stroke": "#262626", "strokeWidth": 1, "opacity": 1, "clip": true}, "encoding": {"y": {"field": "o", "type": "quantitative", "scale": {"domain": [-28.3, 226.7], "reverse": true, "nice": false, "zero": false}, "axis": {"title": "Relative absorption"}}}},
    {"mark": {"type": "point", "shape": "circle", "size": 3, "filled": true, "color": "#333333", "opacity": 1, "clip": true}, "encoding": {"y": {"field": "o", "type": "quantitative", "scale": {"domain": [-28.3, 226.7], "reverse": true, "nice": false, "zero": false}, "axis": {"title": "Relative absorption"}}}},
    {"transform": [{"filter": "isValid(datum.c)"}], "mark": {"type": "line", "color": "#fa3c3c", "strokeWidth": 2.8, "interpolate": "monotone", "clip": true}, "encoding": {"y": {"field": "c", "type": "quantitative", "scale": {"domain": [-28.3, 226.7], "reverse": true, "nice": false, "zero": false}, "axis": {"title": "Relative absorption"}}}}
  ]
},
{
  "width": 522, "height": 247,
  "data": {"name": "C"},
  "title": {"text": "c)", "orient": "bottom", "anchor": "start", "frame": "group", "offset": -7, "dx": 5, "baseline": "alphabetic", "fontSize": 40, "fontWeight": "normal", "color": "black"},
  "encoding": {"x": {"field": "v", "type": "quantitative", "scale": {"domain": [-10, 10], "nice": false, "zero": false}, "axis": {"orient": "top", "title": "Velocity (mm/s)", "values": [-8,-6,-4,-2,0,2,4,6,8], "labelExpr": "datum.value % 4 === 0 ? '' + datum.value : ''"}}},
  "layer": [
    {"transform": [{"filter": "isValid(datum.b)"}], "mark": {"type": "area", "color": "#1b6ade", "interpolate": "monotone"}, "encoding": {"y": {"field": "b", "type": "quantitative", "scale": {"domain": [-22.7, 224.3], "reverse": true, "nice": false, "zero": false}, "axis": {"title": "Relative absorption"}}, "y2": {"datum": 0}}},
    {"transform": [{"filter": "isValid(datum.b)"}], "mark": {"type": "line", "color": "#333333", "strokeWidth": 1.5}, "encoding": {"y": {"datum": 0, "type": "quantitative", "scale": {"domain": [-22.7, 224.3], "reverse": true, "nice": false, "zero": false}, "axis": {"title": "Relative absorption"}}}},
    {"mark": {"type": "point", "shape": "diamond", "size": 95, "filled": true, "fill": "white", "stroke": "#262626", "strokeWidth": 1, "opacity": 1}, "encoding": {"y": {"field": "o", "type": "quantitative", "scale": {"domain": [-22.7, 224.3], "reverse": true, "nice": false, "zero": false}, "axis": {"title": "Relative absorption"}}}},
    {"mark": {"type": "point", "shape": "circle", "size": 3, "filled": true, "color": "#333333", "opacity": 1}, "encoding": {"y": {"field": "o", "type": "quantitative", "scale": {"domain": [-22.7, 224.3], "reverse": true, "nice": false, "zero": false}, "axis": {"title": "Relative absorption"}}}},
    {"transform": [{"filter": "isValid(datum.c)"}], "mark": {"type": "line", "color": "#fa3c3c", "strokeWidth": 2.8, "interpolate": "monotone"}, "encoding": {"y": {"field": "c", "type": "quantitative", "scale": {"domain": [-22.7, 224.3], "reverse": true, "nice": false, "zero": false}, "axis": {"title": "Relative absorption"}}}}
  ]
},
{
  "width": 508, "height": 247,
  "data": {"name": "D"},
  "title": {"text": "d)", "orient": "bottom", "anchor": "start", "frame": "group", "offset": -7, "dx": 5, "baseline": "alphabetic", "fontSize": 40, "fontWeight": "normal", "color": "black"},
  "encoding": {"x": {"field": "v", "type": "quantitative", "scale": {"domain": [-10, 9.46], "nice": false, "zero": false}, "axis": {"orient": "top", "title": "Velocity (mm/s)", "titleX": 261, "values": [-8,-6,-4,-2,0,2,4,6,8], "labelExpr": "datum.value % 4 === 0 ? '' + datum.value : ''"}}},
  "layer": [
    {"transform": [{"filter": "isValid(datum.b)"}], "mark": {"type": "area", "color": "#1b6ade", "interpolate": "monotone", "clip": true}, "encoding": {"y": {"field": "b", "type": "quantitative", "scale": {"domain": [-29.3, 217.7], "reverse": true, "nice": false, "zero": false}, "axis": {"title": "Relative absorption"}}, "y2": {"datum": 0}}},
    {"transform": [{"filter": "isValid(datum.g)"}], "mark": {"type": "area", "color": "#68a518", "interpolate": "monotone", "clip": true}, "encoding": {"y": {"field": "g", "type": "quantitative", "scale": {"domain": [-29.3, 217.7], "reverse": true, "nice": false, "zero": false}, "axis": {"title": "Relative absorption"}}, "y2": {"datum": 0}}},
    {"transform": [{"filter": "isValid(datum.b)"}], "mark": {"type": "line", "color": "#333333", "strokeWidth": 1.5, "clip": true}, "encoding": {"y": {"datum": 0, "type": "quantitative", "scale": {"domain": [-29.3, 217.7], "reverse": true, "nice": false, "zero": false}, "axis": {"title": "Relative absorption"}}}},
    {"mark": {"type": "point", "shape": "diamond", "size": 95, "filled": true, "fill": "white", "stroke": "#262626", "strokeWidth": 1, "opacity": 1, "clip": true}, "encoding": {"y": {"field": "o", "type": "quantitative", "scale": {"domain": [-29.3, 217.7], "reverse": true, "nice": false, "zero": false}, "axis": {"title": "Relative absorption"}}}},
    {"mark": {"type": "point", "shape": "circle", "size": 3, "filled": true, "color": "#333333", "opacity": 1, "clip": true}, "encoding": {"y": {"field": "o", "type": "quantitative", "scale": {"domain": [-29.3, 217.7], "reverse": true, "nice": false, "zero": false}, "axis": {"title": "Relative absorption"}}}},
    {"transform": [{"filter": "isValid(datum.c)"}], "mark": {"type": "line", "color": "#fa3c3c", "strokeWidth": 2.8, "interpolate": "monotone", "clip": true}, "encoding": {"y": {"field": "c", "type": "quantitative", "scale": {"domain": [-29.3, 217.7], "reverse": true, "nice": false, "zero": false}, "axis": {"title": "Relative absorption"}}}}
  ]
}
]
}
